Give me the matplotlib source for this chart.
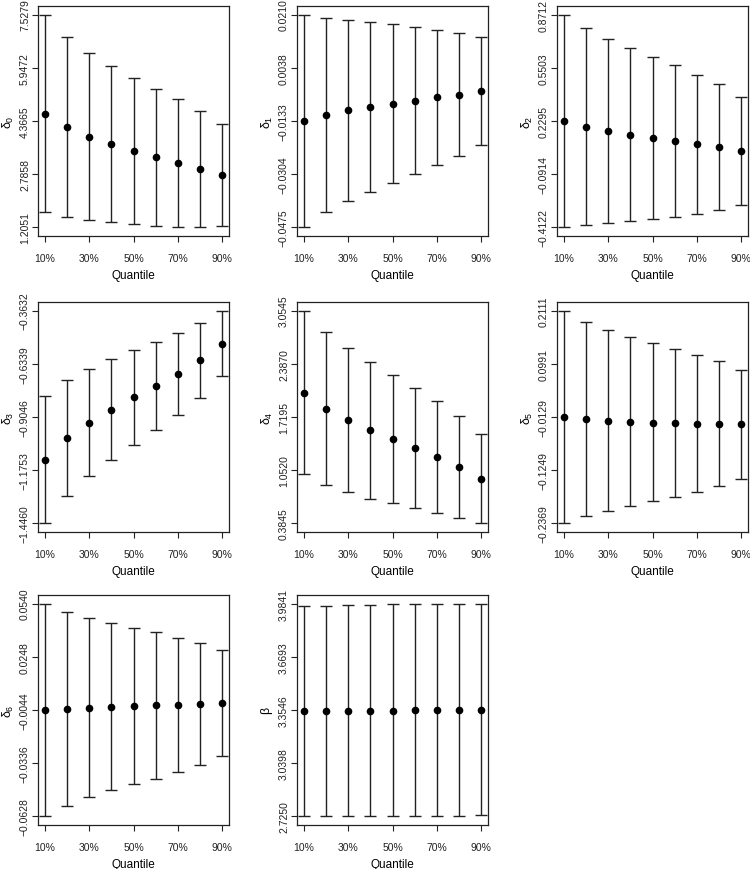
import numpy as np
import matplotlib
matplotlib.use("Agg")
import matplotlib.pyplot as plt

plt.rcParams['font.family'] = ['Liberation Sans', 'DejaVu Sans']
plt.rcParams['mathtext.fontset'] = 'custom'
plt.rcParams['mathtext.rm'] = 'Liberation Sans'
plt.rcParams['mathtext.it'] = 'Liberation Sans'

quantiles = ['10%', '20%', '30%', '40%', '50%', '60%', '70%', '80%', '90%']

# point estimates, lower and upper bounds for each parameter
d0_est = [4.589, 4.184, 3.906, 3.669, 3.471, 3.283, 3.105, 2.937, 2.759]
d0_lo = [1.670, 1.512, 1.433, 1.354, 1.294, 1.245, 1.2051, 1.2051, 1.245]
d0_hi = [7.5279, 6.855, 6.390, 6.004, 5.648, 5.331, 5.005, 4.649, 4.263]
d0_ticks = ['1.2051', '2.7858', '4.3665', '5.9472', '7.5279']

d1_est = [-0.0133, -0.01127, -0.00987, -0.0088, -0.00773, -0.00666, -0.00569, -0.00473, -0.00355]
d1_lo = [-0.0475, -0.04268, -0.03903, -0.03603, -0.03314, -0.03035, -0.02745, -0.02445, -0.02081]
d1_hi = [0.0210, 0.02004, 0.01939, 0.01854, 0.0180, 0.01703, 0.01618, 0.01521, 0.01371]
d1_ticks = ['-0.0475', '-0.0304', '-0.0133', '0.0038', '0.0210']

d2_est = [0.2285, 0.1944, 0.1683, 0.1462, 0.1281, 0.1080, 0.0899, 0.0718, 0.0498]
d2_lo = [-0.4122, -0.4002, -0.3881, -0.3740, -0.3620, -0.3479, -0.3299, -0.3078, -0.2796]
d2_hi = [0.8712, 0.7889, 0.7266, 0.6704, 0.6182, 0.5659, 0.5097, 0.4515, 0.3751]
d2_ticks = ['-0.4122', '-0.0914', '0.2295', '0.5503', '0.8712']

d3_est = [-1.1224, -1.0122, -0.9326, -0.8665, -0.8038, -0.7462, -0.6852, -0.6157, -0.5310]
d3_lo = [-1.4460, -1.3071, -1.2071, -1.1224, -1.0461, -0.9698, -0.8936, -0.8055, -0.6970]
d3_hi = [-0.797, -0.7157, -0.6581, -0.6089, -0.5649, -0.5225, -0.4767, -0.4276, -0.3632]
d3_ticks = ['-1.4460', '-1.1753', '-0.9046', '-0.6339', '-0.3632']

d4_est = [2.025, 1.82, 1.6777, 1.5521, 1.4391, 1.3303, 1.2173, 1.096, 0.9411]
d4_lo = [0.9997, 0.8616, 0.7737, 0.6942, 0.6356, 0.5728, 0.5184, 0.4556, 0.3845]
d4_hi = [3.0545, 2.7825, 2.5816, 2.41, 2.2426, 2.0794, 1.9162, 1.7321, 1.5019]
d4_ticks = ['0.3845', '1.0520', '1.7195', '2.3870', '3.0545']

d5_est = [-0.0125, -0.0175, -0.0203, -0.0231, -0.0245, -0.0259, -0.0266, -0.0273, -0.0280]
d5_lo = [-0.2369, -0.2215, -0.2103, -0.2004, -0.1906, -0.1815, -0.1710, -0.1591, -0.1423]
d5_hi = [0.2111, 0.1866, 0.1697, 0.1557, 0.1431, 0.1305, 0.1179, 0.1045, 0.0870]
d5_ticks = ['-0.2369', '-0.1249', '-0.0129', '0.0991', '0.2111']

d6_est = [-0.00449, -0.00376, -0.00303, -0.00266, -0.0023, -0.00193, -0.00157, -0.0012, -0.00083]
d6_lo = [-0.0628, -0.05695, -0.05238, -0.04854, -0.04525, -0.04214, -0.03867, -0.03483, -0.0299]
d6_hi = [0.0540, 0.04943, 0.04632, 0.04358, 0.04084, 0.03828, 0.03536, 0.03243, 0.0286]
d6_ticks = ['-0.0628', '-0.0336', '-0.0044', '0.0248', '0.0540']

beta_est = [3.3467, 3.3467, 3.3486, 3.3506, 3.3506, 3.3526, 3.3526, 3.3546, 3.3565]
beta_lo = [2.7250, 2.7250, 2.7250, 2.727, 2.727, 2.729, 2.729, 2.729, 2.731]
beta_hi = [3.9683, 3.9723, 3.9762, 3.9782, 3.9802, 3.9821, 3.9821, 3.9841, 3.9841]
beta_ticks = ['2.7250', '3.0398', '3.3546', '3.6693', '3.9841']

labels = [r'$\delta_0$', r'$\delta_1$', r'$\delta_2$', r'$\delta_3$',
          r'$\delta_4$', r'$\delta_5$', r'$\delta_6$', r'$\beta$']
series = [(d0_est, d0_lo, d0_hi, d0_ticks), (d1_est, d1_lo, d1_hi, d1_ticks),
          (d2_est, d2_lo, d2_hi, d2_ticks), (d3_est, d3_lo, d3_hi, d3_ticks),
          (d4_est, d4_lo, d4_hi, d4_ticks), (d5_est, d5_lo, d5_hi, d5_ticks),
          (d6_est, d6_lo, d6_hi, d6_ticks), (beta_est, beta_lo, beta_hi, beta_ticks)]

W, H = 750, 870
fig = plt.figure(figsize=(W/100, H/100), dpi=100, facecolor='w')

# box positions in pixels
col_left = [38, 297, 557]
row_top = [7, 303, 596]
box_w, box_h = 191, 230

x = np.arange(1, 10)
for i, (lab, (est, lo, hi, ticks)) in enumerate(zip(labels, series)):
    r, c = divmod(i, 3)
    l, t = col_left[c], row_top[r]
    ax = fig.add_axes([l/W, 1 - (t + box_h)/H, box_w/W, box_h/H])
    est, lo, hi = np.array(est), np.array(lo), np.array(hi)
    ax.errorbar(x, est, yerr=[est - lo, hi - est], fmt='o', color='k',
                ms=4.5, ecolor='#222222', elinewidth=1, capsize=4.5, capthick=1)
    ymin, ymax = lo.min(), hi.max()
    pad = 0.04 * (ymax - ymin)
    ax.set_ylim(ymin - pad, ymax + pad)
    ax.set_xlim(1 - 0.32, 9 + 0.32)
    ax.set_yticks([float(v) for v in ticks])
    ax.set_yticklabels([v.replace('-', '\u2212') for v in ticks], rotation=90, va='center')
    ax.set_xticks(x[::2])
    ax.set_xticklabels(quantiles[::2])
    ax.tick_params(axis='both', direction='out', length=4.3, width=0.8,
                   labelsize=7.5, colors='#222222')
    ax.tick_params(axis='x', pad=8)
    ax.tick_params(axis='y', pad=1.5)
    for s in ax.spines.values():
        s.set_linewidth(0.9)
        s.set_color('#222222')
    ax.set_xlabel('Quantile', fontsize=8.5, labelpad=4.5)
    ax.set_ylabel(lab, fontsize=9, labelpad=2.5)

plt.savefig('out.png', dpi=100)
